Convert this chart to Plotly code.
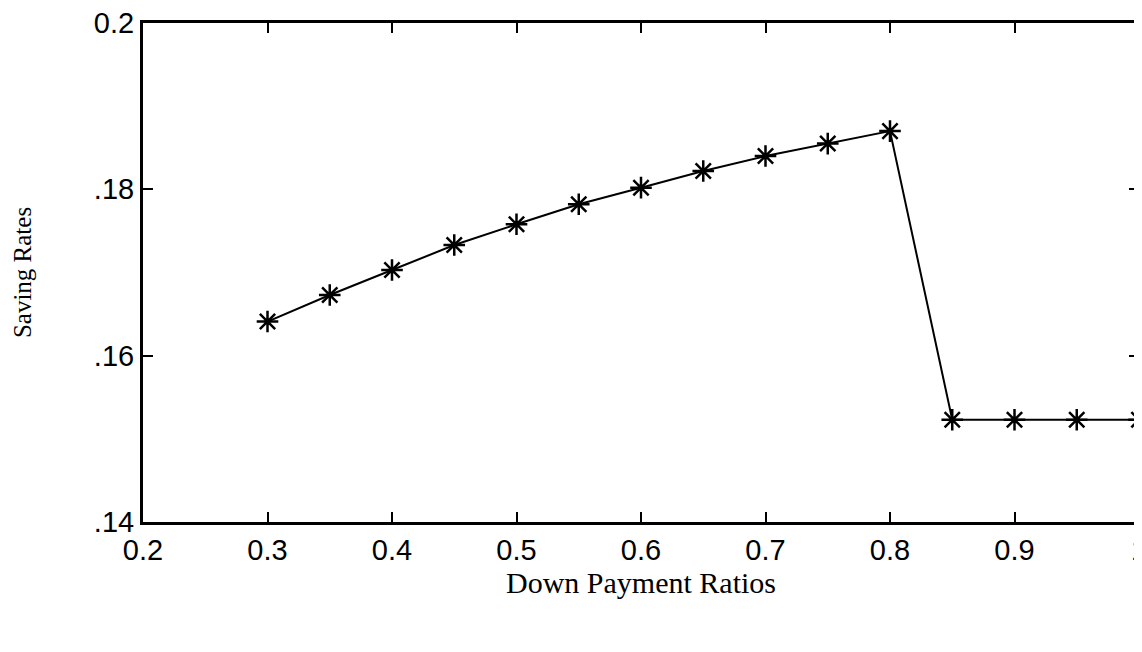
import plotly.graph_objects as go

down_payment = [0.3, 0.35, 0.4, 0.45, 0.5, 0.55, 0.6, 0.65, 0.7, 0.75, 0.8, 0.85, 0.9, 0.95, 1.0]
saving_rates = [0.1641, 0.1673, 0.1703, 0.1733, 0.1758, 0.1782, 0.1802, 0.1822, 0.1840, 0.1855, 0.1870,
                0.1523, 0.1523, 0.1523, 0.1523]

x_ticks = [0.2, 0.3, 0.4, 0.5, 0.6, 0.7, 0.8, 0.9, 1.0]
x_labels = ["0.2", "0.3", "0.4", "0.5", "0.6", "0.7", "0.8", "0.9", "1"]
y_ticks = [0.14, 0.16, 0.18, 0.2]
y_labels = [".14", ".16", ".18", "0.2"]

fig = go.Figure()
fig.add_trace(go.Scatter(
    x=down_payment, y=saving_rates, mode="lines+markers",
    line=dict(color="black", width=2),
    marker=dict(symbol="asterisk-open", size=18, color="black", line=dict(color="black", width=2.5)),
    cliponaxis=False,
))

axis_common = dict(
    showgrid=False, zeroline=False, showline=True, linecolor="black", linewidth=3,
    mirror="ticks", ticks="inside", ticklen=10, tickwidth=2, tickcolor="black",
    ticklabeloverflow="allow",
    tickfont=dict(family="Liberation Sans, Arial", size=29, color="black"),
)

fig.update_layout(
    width=1134, height=644,
    margin=dict(l=135, r=3, t=15, b=130, autoexpand=False),
    paper_bgcolor="white", plot_bgcolor="white",
    showlegend=False,
    xaxis=dict(range=[0.2, 1.0], tickvals=x_ticks, ticktext=x_labels,
               title=dict(text="Down Payment Ratios", standoff=0,
                          font=dict(family="Liberation Serif, Times New Roman", size=30, color="black")),
               **axis_common),
    yaxis=dict(range=[0.14, 0.2], tickvals=y_ticks, ticktext=y_labels,
               title=dict(text="Saving Rates", standoff=56,
                          font=dict(family="Liberation Serif, Times New Roman", size=25, color="black")),
               **axis_common),
)

fig.write_html("out.html")
